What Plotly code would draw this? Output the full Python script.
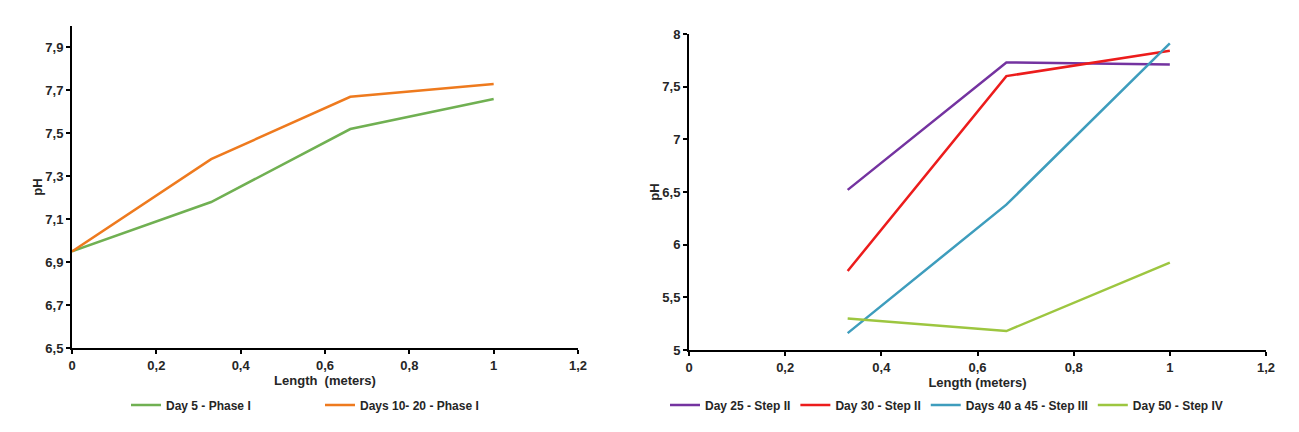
import plotly.graph_objects as go

# ---- data ----
length_left = [0, 0.33, 0.66, 1.0]
day5_phase1 = [6.95, 7.18, 7.52, 7.66]
days10_20_phase1 = [6.95, 7.38, 7.67, 7.73]

length_right = [0.33, 0.66, 1.0]
day25_step2 = [6.52, 7.73, 7.71]
day30_step2 = [5.75, 7.60, 7.84]
days40_45_step3 = [5.16, 6.38, 7.91]
day50_step4 = [5.30, 5.18, 5.83]

left_names = ["Day 5 - Phase I", "Days 10- 20 - Phase I"]
right_names = ["Day 25 - Step II", "Day 30 - Step II", "Days 40 a 45 - Step III", "Day 50 - Step IV"]

FONT = "Liberation Sans Narrow, Liberation Sans, Arial, sans-serif"
TXT = "#262626"
W, H = 1299, 432
OFF = 8  # page body margin

def px_x(p):
    return (p - OFF) / W

def px_y(p):
    return (H - (p - OFF)) / H

fig = go.Figure()

left_colors = ["#70B052", "#EE7A1E"]
for name, ys, c in zip(left_names, [day5_phase1, days10_20_phase1], left_colors):
    fig.add_trace(go.Scatter(x=length_left, y=ys, name=name, mode="lines",
                             line=dict(color=c, width=2.5), xaxis="x", yaxis="y",
                             legend="legend"))

right_colors = ["#7433A0", "#EC1C1C", "#3E9DBD", "#9DC640"]
for name, ys, c in zip(right_names, [day25_step2, day30_step2, days40_45_step3, day50_step4], right_colors):
    fig.add_trace(go.Scatter(x=length_right, y=ys, name=name, mode="lines",
                             line=dict(color=c, width=2.5), xaxis="x2", yaxis="y2",
                             legend="legend2"))

tick_font = dict(family=FONT, size=13, color=TXT, weight="bold")
axis_common = dict(showline=True, linecolor="black", linewidth=2, showgrid=False,
                   zeroline=False, ticks="outside", ticklen=4, tickwidth=1.5, tickcolor="black",
                   tickfont=tick_font, automargin=False, tickformat="~r")
title_font = dict(family=FONT, size=13, color=TXT, weight="bold")
legend_font = dict(family=FONT, size=12, color=TXT, weight="bold")

fig.update_layout(
    width=W, height=H,
    margin=dict(l=0, r=0, t=0, b=0, autoexpand=False),
    paper_bgcolor="white", plot_bgcolor="white",
    separators=",.",
    font=dict(family=FONT, color=TXT),
    xaxis=dict(domain=[px_x(72), px_x(578)], range=[0, 1.2], dtick=0.2, tick0=0,
               title=dict(text="Length  (meters)", font=title_font, standoff=0),
               anchor="y", **axis_common),
    yaxis=dict(domain=[px_y(348), px_y(26)], range=[6.5, 8.0], dtick=0.2, tick0=6.5,
               title=dict(text="pH", font=title_font, standoff=0),
               anchor="x", **axis_common),
    xaxis2=dict(domain=[px_x(689), px_x(1266)], range=[0, 1.2], dtick=0.2, tick0=0,
                title=dict(text="Length (meters)", font=title_font, standoff=0),
                anchor="y2", **axis_common),
    yaxis2=dict(domain=[px_y(350), px_y(34)], range=[5, 8], dtick=0.5, tick0=5,
                title=dict(text="pH", font=title_font, standoff=0),
                anchor="x2", **axis_common),
    legend=dict(orientation="h", x=px_x(126), y=px_y(405), xanchor="left", yanchor="middle",
                font=legend_font, bgcolor="rgba(0,0,0,0)",
                entrywidth=149, entrywidthmode="pixels", itemwidth=30),
    legend2=dict(orientation="h", x=px_x(665), y=px_y(405), xanchor="left", yanchor="middle",
                 font=legend_font, bgcolor="rgba(0,0,0,0)",
                 itemwidth=30),
)

fig.write_html("out.html")
